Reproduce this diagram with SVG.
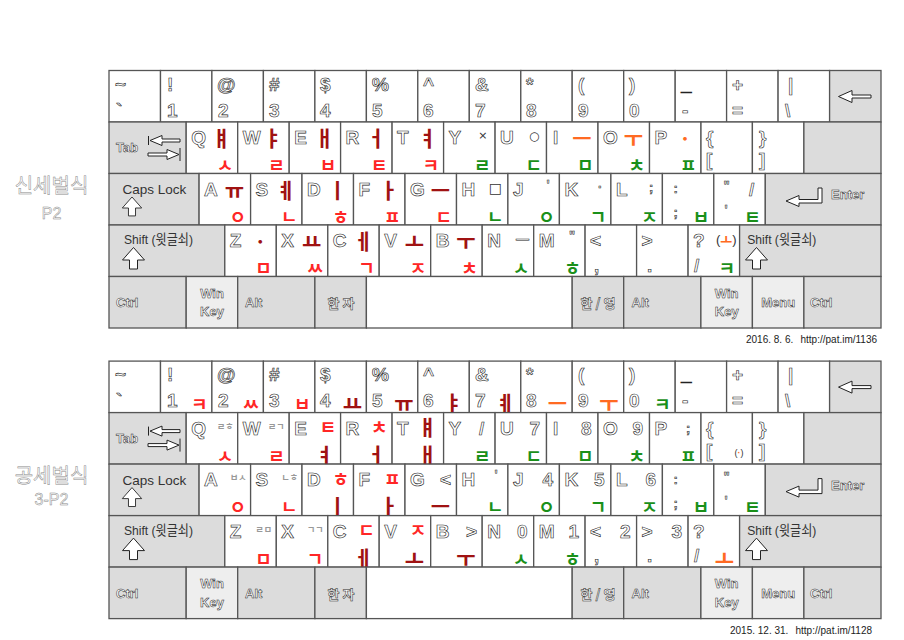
<svg xmlns="http://www.w3.org/2000/svg" xmlns:xlink="http://www.w3.org/1999/xlink" width="904" height="640" viewBox="0 0 904 640">
<style>
.k{stroke:#555;stroke-width:1.3}
.w{fill:#fff}.g{fill:#dcdcdc}.l{fill:#eeeeee}
.h{font-family:"Liberation Sans",Arial,sans-serif;font-size:19px;font-weight:bold;fill:#fff;stroke:#222;stroke-width:.6}
.hs{font-family:"Liberation Sans",Arial,sans-serif;font-size:13px;font-weight:bold;fill:#fff;stroke:#222;stroke-width:.55}
.hb{font-family:"Liberation Sans",Arial,sans-serif;font-size:13px;font-weight:bold;fill:#fff;stroke:#222;stroke-width:.5}
.hk{font-family:"Noto Sans CJK KR",sans-serif;font-size:13px;font-weight:bold;fill:#fff;stroke:#222;stroke-width:.5}
.t{font-family:"Liberation Sans","Noto Sans CJK KR",sans-serif;font-size:13.5px;fill:#333}
.v{font-family:"Noto Sans CJK KR",sans-serif;font-size:21px;font-weight:bold;text-anchor:end}
.c{font-family:"Noto Sans CJK KR",sans-serif;font-size:18px;font-weight:bold;text-anchor:end}
.sm{font-family:"Noto Sans CJK KR",sans-serif;font-size:9px;font-weight:bold;fill:#999;text-anchor:end}
.dr{fill:#a01212}.rd{fill:#ff2626}.gr{fill:#1a901a}.or{fill:#ff6a22}.bk{fill:#333}
.e{text-anchor:end}.m{text-anchor:middle}
.ic{fill:#fff;stroke:#222;stroke-width:1}
.f{font-family:"Liberation Sans",Arial,sans-serif;font-size:10px;fill:#222}
.lab{font-family:"Noto Sans CJK KR",sans-serif;font-size:20px;fill:#fff;stroke:#888;stroke-width:.5;text-anchor:middle}
.labl{font-family:"Liberation Sans",Arial,sans-serif;font-size:16px;fill:#fff;stroke:#888;stroke-width:.5;text-anchor:middle}
</style>
<defs>
<path id="ua" class="ic" d="M0,0 L11,12.5 L4,12.5 L4,21.5 L-4,21.5 L-4,12.5 L-11,12.5 Z"/>
<path id="bsa" class="ic" d="M0,0 L13.5,-6 L13.5,-1.5 L32.5,-1.5 L32.5,1.5 L13.5,1.5 L13.5,6 Z"/>
<path id="ena" class="ic" d="M0,0 L13,-5.5 L13,-1.5 L32,-1.5 L32,-13 L36,-13 L36,2 L13,2 L13,5.5 Z"/>
<g id="tba">
<path class="ic" d="M148.5,136 V145 M180,148 V161"/>
<path class="ic" d="M150,140.5 L162,135.5 L162,139 L180,139 L180,142 L162,142 L162,145.5 Z"/>
<path class="ic" d="M179,154.5 L167,149.5 L167,153 L148,153 L148,156 L167,156 L167,159.5 Z"/>
</g>
</defs>
<rect width="904" height="640" fill="#fff"/>

<g id="label1"><text class="lab" x="51.5" y="193">신세벌식</text><text class="labl" x="51.5" y="219">P2</text></g>
<g id="label2"><text class="lab" x="51.5" y="483">공세벌식</text><text class="labl" x="51.5" y="505">3-P2</text></g>
<g id="foot1"><text class="f" x="746" y="343">2016. 8. 6.</text><text class="f" x="800.5" y="343">http://pat.im/1136</text></g>
<g id="foot2"><text class="f" x="730" y="634">2015. 12. 31.</text><text class="f" x="795.5" y="634">http://pat.im/1128</text></g>

<!-- ===== Keyboard 1 : 신세벌식 P2 ===== -->
<g id="kb1">
<g id="a-grave"><rect class="k w" x="109" y="70.5" width="51.5" height="51.5"/><text class="h" x="115" y="90.5">~</text><text class="h" x="116" y="116.5">`</text></g>
<g id="a-1"><rect class="k w" x="160.5" y="70.5" width="51.4" height="51.5"/><text class="h" x="167" y="90.5">!</text><text class="h" x="167" y="116.5">1</text></g>
<g id="a-2"><rect class="k w" x="211.9" y="70.5" width="51.5" height="51.5"/><text class="h" x="217" y="90.5">@</text><text class="h" x="218" y="116.5">2</text></g>
<g id="a-3"><rect class="k w" x="263.4" y="70.5" width="51.5" height="51.5"/><text class="h" x="269" y="90.5">#</text><text class="h" x="269" y="116.5">3</text></g>
<g id="a-4"><rect class="k w" x="314.9" y="70.5" width="51.5" height="51.5"/><text class="h" x="320" y="90.5">$</text><text class="h" x="320" y="116.5">4</text></g>
<g id="a-5"><rect class="k w" x="366.4" y="70.5" width="51.4" height="51.5"/><text class="h" x="372" y="90.5">%</text><text class="h" x="372" y="116.5">5</text></g>
<g id="a-6"><rect class="k w" x="417.8" y="70.5" width="51.5" height="51.5"/><text class="h" x="423" y="90.5">^</text><text class="h" x="423" y="116.5">6</text></g>
<g id="a-7"><rect class="k w" x="469.3" y="70.5" width="51.5" height="51.5"/><text class="h" x="475" y="90.5">&amp;</text><text class="h" x="475" y="116.5">7</text></g>
<g id="a-8"><rect class="k w" x="520.8" y="70.5" width="51.4" height="51.5"/><text class="h" x="526" y="90.5">*</text><text class="h" x="526" y="116.5">8</text></g>
<g id="a-9"><rect class="k w" x="572.2" y="70.5" width="51.5" height="51.5"/><text class="h" x="578" y="90.5">(</text><text class="h" x="578" y="116.5">9</text></g>
<g id="a-0"><rect class="k w" x="623.7" y="70.5" width="51.5" height="51.5"/><text class="h" x="629" y="90.5">)</text><text class="h" x="629" y="116.5">0</text></g>
<g id="a-minus"><rect class="k w" x="675.2" y="70.5" width="51.4" height="51.5"/><text class="h" x="681" y="90.5">_</text><text class="h" x="682" y="116.5">-</text></g>
<g id="a-equal"><rect class="k w" x="726.6" y="70.5" width="51.5" height="51.5"/><text class="h" x="732" y="90.5">+</text><text class="h" x="732" y="116.5">=</text></g>
<g id="a-bslash"><rect class="k w" x="778.1" y="70.5" width="51.5" height="51.5"/><text class="h" x="788" y="90.5">|</text><text class="h" x="785" y="116.5">\</text></g>
<g id="a-back"><rect class="k g" x="829.6" y="70.5" width="51.4" height="51.5"/><use xlink:href="#bsa" x="838.5" y="96.5"/></g>

<g id="a-tab"><rect class="k g" x="109" y="122" width="77.2" height="51.5"/><text class="hb" x="116" y="152">Tab</text><use xlink:href="#tba"/></g>
<g id="a-q"><rect class="k w" x="186.2" y="122" width="51.5" height="51.5"/><text class="h" x="191.2" y="144">Q</text><text class="v dr" x="231.2" y="146">ㅒ</text><text class="c rd" x="233.2" y="172">ㅅ</text></g>
<g id="a-w"><rect class="k w" x="237.7" y="122" width="51.5" height="51.5"/><text class="h" x="242.7" y="144">W</text><text class="v dr" x="282.7" y="146">ㅑ</text><text class="c rd" x="284.7" y="172">ㄹ</text></g>
<g id="a-e"><rect class="k w" x="289.2" y="122" width="51.4" height="51.5"/><text class="h" x="294.2" y="144">E</text><text class="v dr" x="334.2" y="146">ㅐ</text><text class="c rd" x="336.2" y="172">ㅂ</text></g>
<g id="a-r"><rect class="k w" x="340.6" y="122" width="51.5" height="51.5"/><text class="h" x="345.6" y="144">R</text><text class="v dr" x="385.6" y="146">ㅓ</text><text class="c rd" x="387.6" y="172">ㅌ</text></g>
<g id="a-t"><rect class="k w" x="392.1" y="122" width="51.5" height="51.5"/><text class="h" x="397.1" y="144">T</text><text class="v dr" x="437.1" y="146">ㅕ</text><text class="c rd" x="439.1" y="172">ㅋ</text></g>
<g id="a-y"><rect class="k w" x="443.6" y="122" width="51.5" height="51.5"/><text class="h" x="448.6" y="144">Y</text><text class="bk e" x="487.5" y="139" font-family="DejaVu Sans" font-size="11">×</text><text class="c gr" x="490.6" y="172">ㄹ</text></g>
<g id="a-u"><rect class="k w" x="495.1" y="122" width="51.4" height="51.5"/><text class="h" x="500.1" y="144">U</text><text class="bk e" x="539.5" y="140" font-family="DejaVu Sans" font-size="12">○</text><text class="c gr" x="542.1" y="172">ㄷ</text></g>
<g id="a-i"><rect class="k w" x="546.5" y="122" width="51.5" height="51.5"/><text class="h" x="553" y="144">I</text><text class="v or" x="591.5" y="146">ㅡ</text><text class="c gr" x="593.5" y="172">ㅁ</text></g>
<g id="a-o"><rect class="k w" x="598" y="122" width="51.5" height="51.5"/><text class="h" x="603" y="144">O</text><text class="v or" x="643" y="146">ㅜ</text><text class="c gr" x="645" y="172">ㅊ</text></g>
<g id="a-p"><rect class="k w" x="649.5" y="122" width="51.5" height="51.5"/><text class="h" x="654.5" y="144">P</text><text class="v or" x="694.5" y="146">ㆍ</text><text class="c gr" x="696.5" y="172">ㅍ</text></g>
<g id="a-lbr"><rect class="k w" x="701" y="122" width="51.4" height="51.5"/><text class="h" x="706" y="144">{</text><text class="h" x="706" y="166">[</text></g>
<g id="a-rbr"><rect class="k w" x="752.4" y="122" width="51.5" height="51.5"/><text class="h" x="759" y="144">}</text><text class="h" x="759" y="166">]</text></g>
<g id="a-ret"><rect class="k g" x="803.9" y="122" width="77.1" height="51.5"/></g>

<g id="a-caps"><rect class="k g" x="109" y="173.5" width="90.1" height="51.5"/><text class="t" x="122.5" y="194">Caps Lock</text><use xlink:href="#ua" transform="translate(132,197) scale(.88)"/></g>
<g id="a-a"><rect class="k w" x="199.1" y="173.5" width="51.5" height="51.5"/><text class="h" x="204.1" y="195.5">A</text><text class="v dr" x="244.1" y="197.5">ㅠ</text><text class="c rd" x="246.1" y="223.5">ㅇ</text></g>
<g id="a-s"><rect class="k w" x="250.6" y="173.5" width="51.4" height="51.5"/><text class="h" x="255.6" y="195.5">S</text><text class="v dr" x="295.6" y="197.5">ㅖ</text><text class="c rd" x="297.6" y="223.5">ㄴ</text></g>
<g id="a-d"><rect class="k w" x="302" y="173.5" width="51.5" height="51.5"/><text class="h" x="307" y="195.5">D</text><text class="v dr" x="347" y="197.5">ㅣ</text><text class="c rd" x="349" y="223.5">ㅎ</text></g>
<g id="a-f"><rect class="k w" x="353.5" y="173.5" width="51.5" height="51.5"/><text class="h" x="358.5" y="195.5">F</text><text class="v dr" x="398.5" y="197.5">ㅏ</text><text class="c rd" x="400.5" y="223.5">ㅍ</text></g>
<g id="a-g"><rect class="k w" x="405" y="173.5" width="51.5" height="51.5"/><text class="h" x="410" y="195.5">G</text><text class="v dr" x="450" y="197.5">ㅡ</text><text class="c rd" x="452" y="223.5">ㄷ</text></g>
<g id="a-h"><rect class="k w" x="456.5" y="173.5" width="51.4" height="51.5"/><text class="h" x="461.5" y="195.5">H</text><text class="bk e" x="502" y="193" font-family="DejaVu Sans" font-size="14">□</text><text class="c gr" x="503.5" y="223.5">ㄴ</text></g>
<g id="a-j"><rect class="k w" x="507.9" y="173.5" width="51.5" height="51.5"/><text class="h" x="512.9" y="195.5">J</text><text class="hs" x="546.5" y="189">'</text><text class="c gr" x="554.9" y="223.5">ㅇ</text></g>
<g id="a-k"><rect class="k w" x="559.4" y="173.5" width="51.5" height="51.5"/><text class="h" x="564.4" y="195.5">K</text><text class="hs" x="598" y="191">·</text><text class="c gr" x="606.4" y="223.5">ㄱ</text></g>
<g id="a-l"><rect class="k w" x="610.9" y="173.5" width="51.5" height="51.5"/><text class="h" x="615.9" y="195.5">L</text><text class="hs" x="649" y="192">;</text><text class="c gr" x="657.9" y="223.5">ㅈ</text></g>
<g id="a-semi"><rect class="k w" x="662.4" y="173.5" width="51.4" height="51.5"/><text class="hs" x="673.5" y="193">:</text><text class="hs" x="673.5" y="217">;</text><text class="c gr" x="709.4" y="223.5">ㅂ</text></g>
<g id="a-quote"><rect class="k w" x="713.8" y="173.5" width="51.5" height="51.5"/><text class="hs" x="723.5" y="190">"</text><text class="hs" x="724.5" y="214">'</text><text class="h" x="749" y="196">/</text><text class="c gr" x="760.8" y="223.5">ㅌ</text></g>
<g id="a-enter"><rect class="k g" x="765.3" y="173.5" width="115.7" height="51.5"/><use xlink:href="#ena" x="786" y="201"/><text class="hb" x="831" y="199">Enter</text></g>

<g id="a-lshift"><rect class="k g" x="109" y="225" width="115.8" height="51.5"/><text class="t" x="124" y="244" textLength="69" lengthAdjust="spacingAndGlyphs">Shift (윗글쇠)</text><use xlink:href="#ua" x="133.5" y="247.5"/></g>
<g id="a-z"><rect class="k w" x="224.8" y="225" width="51.5" height="51.5"/><text class="h" x="229.8" y="247">Z</text><text class="v dr" x="269.8" y="249">ㆍ</text><text class="c rd" x="271.8" y="275">ㅁ</text></g>
<g id="a-x"><rect class="k w" x="276.3" y="225" width="51.5" height="51.5"/><text class="h" x="281.3" y="247">X</text><text class="v dr" x="321.3" y="249">ㅛ</text><text class="c rd" x="323.3" y="275">ㅆ</text></g>
<g id="a-c"><rect class="k w" x="327.8" y="225" width="51.4" height="51.5"/><text class="h" x="332.8" y="247">C</text><text class="v dr" x="372.8" y="249">ㅔ</text><text class="c rd" x="374.8" y="275">ㄱ</text></g>
<g id="a-v"><rect class="k w" x="379.2" y="225" width="51.5" height="51.5"/><text class="h" x="384.2" y="247">V</text><text class="v dr" x="424.2" y="249">ㅗ</text><text class="c rd" x="426.2" y="275">ㅈ</text></g>
<g id="a-b"><rect class="k w" x="430.7" y="225" width="51.5" height="51.5"/><text class="h" x="435.7" y="247">B</text><text class="v dr" x="475.7" y="249">ㅜ</text><text class="c rd" x="477.7" y="275">ㅊ</text></g>
<g id="a-n"><rect class="k w" x="482.2" y="225" width="51.5" height="51.5"/><text class="h" x="487.2" y="247">N</text><text class="hs e" x="529" y="243">—</text><text class="c gr" x="529.2" y="275">ㅅ</text></g>
<g id="a-m"><rect class="k w" x="533.7" y="225" width="51.4" height="51.5"/><text class="h" x="538.7" y="247">M</text><text class="hs" x="569" y="240">"</text><text class="c gr" x="580.7" y="275">ㅎ</text></g>
<g id="a-comma"><rect class="k w" x="585.1" y="225" width="51.5" height="51.5"/><text class="h" x="590.1" y="247">&lt;</text><text class="h" x="594" y="271.5">,</text></g>
<g id="a-period"><rect class="k w" x="636.6" y="225" width="51.5" height="51.5"/><text class="h" x="641.6" y="247">&gt;</text><text class="h" x="647" y="271.5">.</text></g>
<g id="a-slash"><rect class="k w" x="688.1" y="225" width="51.5" height="51.5"/><text class="h" x="693.1" y="247">?</text><text class="h" x="694" y="271.5">/</text><text class="bk" x="716" y="244" font-family="Liberation Sans" font-size="13">(<tspan class="or" font-family="Noto Sans CJK KR" font-weight="bold">ㅗ</tspan>)</text><text class="c gr" x="735.1" y="275">ㅋ</text></g>
<g id="a-rshift"><rect class="k g" x="739.6" y="225" width="141.4" height="51.5"/><text class="t" x="747.3" y="244" textLength="69" lengthAdjust="spacingAndGlyphs">Shift (윗글쇠)</text><use xlink:href="#ua" x="756.5" y="247.5"/></g>

<g id="a-lctrl"><rect class="k g" x="109" y="276.5" width="77.2" height="51.5"/><text class="hb" x="116" y="307">Ctrl</text></g>
<g id="a-lwin"><rect class="k l" x="186.2" y="276.5" width="51.5" height="51.5"/><text class="hb m" x="212" y="297.5">Win</text><text class="hb m" x="212" y="316">Key</text></g>
<g id="a-lalt"><rect class="k g" x="237.7" y="276.5" width="77.2" height="51.5"/><text class="hb" x="245" y="307">Alt</text></g>
<g id="a-hanja"><rect class="k g" x="314.9" y="276.5" width="51.5" height="51.5"/><text class="hk m" x="341" y="308">한 자</text></g>
<g id="a-space"><rect class="k w" x="366.4" y="276.5" width="205.8" height="51.5"/></g>
<g id="a-hanyeong"><rect class="k g" x="572.2" y="276.5" width="51.5" height="51.5"/><text class="hk m" x="598" y="308">한 / 영</text></g>
<g id="a-ralt"><rect class="k g" x="623.7" y="276.5" width="77.2" height="51.5"/><text class="hb" x="631.5" y="307">Alt</text></g>
<g id="a-rwin"><rect class="k l" x="700.9" y="276.5" width="51.5" height="51.5"/><text class="hb m" x="726.7" y="297.5">Win</text><text class="hb m" x="726.7" y="316">Key</text></g>
<g id="a-menu"><rect class="k l" x="752.4" y="276.5" width="51.5" height="51.5"/><text class="hb m" x="778.2" y="307">Menu</text></g>
<g id="a-rctrl"><rect class="k g" x="803.9" y="276.5" width="77.1" height="51.5"/><text class="hb" x="810" y="307">Ctrl</text></g>
</g>

<!-- ===== Keyboard 2 : 공세벌식 3-P2 ===== -->
<g id="kb2" transform="translate(0,290.6)">
<g id="b-grave"><rect class="k w" x="109" y="70.5" width="51.5" height="51.5"/><text class="h" x="115" y="90.5">~</text><text class="h" x="116" y="116.5">`</text></g>
<g id="b-1"><rect class="k w" x="160.5" y="70.5" width="51.4" height="51.5"/><text class="h" x="167" y="90.5">!</text><text class="h" x="167" y="116.5">1</text><text class="c rd" x="207.5" y="120.5">ㅋ</text></g>
<g id="b-2"><rect class="k w" x="211.9" y="70.5" width="51.5" height="51.5"/><text class="h" x="217" y="90.5">@</text><text class="h" x="218" y="116.5">2</text><text class="c rd" x="259" y="120.5">ㅆ</text></g>
<g id="b-3"><rect class="k w" x="263.4" y="70.5" width="51.5" height="51.5"/><text class="h" x="269" y="90.5">#</text><text class="h" x="269" y="116.5">3</text><text class="c rd" x="310.5" y="120.5">ㅂ</text></g>
<g id="b-4"><rect class="k w" x="314.9" y="70.5" width="51.5" height="51.5"/><text class="h" x="320" y="90.5">$</text><text class="h" x="320" y="116.5">4</text><text class="v dr" x="362" y="120.5">ㅛ</text></g>
<g id="b-5"><rect class="k w" x="366.4" y="70.5" width="51.4" height="51.5"/><text class="h" x="372" y="90.5">%</text><text class="h" x="372" y="116.5">5</text><text class="v dr" x="413.5" y="120.5">ㅠ</text></g>
<g id="b-6"><rect class="k w" x="417.8" y="70.5" width="51.5" height="51.5"/><text class="h" x="423" y="90.5">^</text><text class="h" x="423" y="116.5">6</text><text class="v dr" x="463" y="120.5">ㅑ</text></g>
<g id="b-7"><rect class="k w" x="469.3" y="70.5" width="51.5" height="51.5"/><text class="h" x="475" y="90.5">&amp;</text><text class="h" x="475" y="116.5">7</text><text class="v dr" x="515" y="120.5">ㅖ</text></g>
<g id="b-8"><rect class="k w" x="520.8" y="70.5" width="51.4" height="51.5"/><text class="h" x="526" y="90.5">*</text><text class="h" x="526" y="116.5">8</text><text class="v or" x="567" y="120.5">ㅡ</text></g>
<g id="b-9"><rect class="k w" x="572.2" y="70.5" width="51.5" height="51.5"/><text class="h" x="578" y="90.5">(</text><text class="h" x="578" y="116.5">9</text><text class="v or" x="618.5" y="120.5">ㅜ</text></g>
<g id="b-0"><rect class="k w" x="623.7" y="70.5" width="51.5" height="51.5"/><text class="h" x="629" y="90.5">)</text><text class="h" x="629" y="116.5">0</text><text class="c gr" x="670.5" y="120.5">ㅋ</text></g>
<g id="b-minus"><rect class="k w" x="675.2" y="70.5" width="51.4" height="51.5"/><text class="h" x="681" y="90.5">_</text><text class="h" x="682" y="116.5">-</text></g>
<g id="b-equal"><rect class="k w" x="726.6" y="70.5" width="51.5" height="51.5"/><text class="h" x="732" y="90.5">+</text><text class="h" x="732" y="116.5">=</text></g>
<g id="b-bslash"><rect class="k w" x="778.1" y="70.5" width="51.5" height="51.5"/><text class="h" x="788" y="90.5">|</text><text class="h" x="785" y="116.5">\</text></g>
<g id="b-back"><rect class="k g" x="829.6" y="70.5" width="51.4" height="51.5"/><use xlink:href="#bsa" x="838.5" y="96.5"/></g>

<g id="b-tab"><rect class="k g" x="109" y="122" width="77.2" height="51.5"/><text class="hb" x="116" y="152">Tab</text><use xlink:href="#tba"/></g>
<g id="b-q"><rect class="k w" x="186.2" y="122" width="51.5" height="51.5"/><text class="h" x="191.2" y="144">Q</text><text class="sm" x="233.5" y="139">ㄹㅎ</text><text class="c rd" x="233.2" y="172">ㅅ</text></g>
<g id="b-w"><rect class="k w" x="237.7" y="122" width="51.5" height="51.5"/><text class="h" x="242.7" y="144">W</text><text class="sm" x="284.5" y="139">ㄹㄱ</text><text class="c rd" x="284.7" y="172">ㄹ</text></g>
<g id="b-e"><rect class="k w" x="289.2" y="122" width="51.4" height="51.5"/><text class="h" x="294.2" y="144">E</text><text class="c rd" x="336.2" y="143.5">ㅌ</text><text class="v dr" x="334.2" y="172">ㅕ</text></g>
<g id="b-r"><rect class="k w" x="340.6" y="122" width="51.5" height="51.5"/><text class="h" x="345.6" y="144">R</text><text class="c rd" x="387.6" y="143.5">ㅊ</text><text class="v dr" x="385.6" y="172">ㅓ</text></g>
<g id="b-t"><rect class="k w" x="392.1" y="122" width="51.5" height="51.5"/><text class="h" x="397.1" y="144">T</text><text class="v dr" x="437.1" y="144.5" font-size="19">ㅒ</text><text class="v dr" x="437.1" y="172.5" font-size="19">ㅐ</text></g>
<g id="b-y"><rect class="k w" x="443.6" y="122" width="51.5" height="51.5"/><text class="h" x="448.6" y="144">Y</text><text class="h" x="479" y="144">/</text><text class="c gr" x="490.6" y="172">ㄹ</text></g>
<g id="b-u"><rect class="k w" x="495.1" y="122" width="51.4" height="51.5"/><text class="h" x="500.1" y="144">U</text><text class="h e" x="540" y="144">7</text><text class="c gr" x="542.1" y="172">ㄷ</text></g>
<g id="b-i"><rect class="k w" x="546.5" y="122" width="51.5" height="51.5"/><text class="h" x="553" y="144">I</text><text class="h e" x="591.5" y="144">8</text><text class="c gr" x="593.5" y="172">ㅁ</text></g>
<g id="b-o"><rect class="k w" x="598" y="122" width="51.5" height="51.5"/><text class="h" x="603" y="144">O</text><text class="h e" x="643" y="144">9</text><text class="c gr" x="645" y="172">ㅊ</text></g>
<g id="b-p"><rect class="k w" x="649.5" y="122" width="51.5" height="51.5"/><text class="h" x="654.5" y="144">P</text><text class="hs" x="686" y="142">;</text><text class="c gr" x="696.5" y="172">ㅍ</text></g>
<g id="b-lbr"><rect class="k w" x="701" y="122" width="51.4" height="51.5"/><text class="h" x="706" y="144">{</text><text class="h" x="706" y="166">[</text><text class="bk" x="734.5" y="165" font-family="Liberation Sans" font-size="9">(<tspan class="or" font-weight="bold">·</tspan>)</text></g>
<g id="b-rbr"><rect class="k w" x="752.4" y="122" width="51.5" height="51.5"/><text class="h" x="759" y="144">}</text><text class="h" x="759" y="166">]</text></g>
<g id="b-ret"><rect class="k g" x="803.9" y="122" width="77.1" height="51.5"/></g>

<g id="b-caps"><rect class="k g" x="109" y="173.5" width="90.1" height="51.5"/><text class="t" x="122.5" y="194">Caps Lock</text><use xlink:href="#ua" transform="translate(132,197) scale(.88)"/></g>
<g id="b-a"><rect class="k w" x="199.1" y="173.5" width="51.5" height="51.5"/><text class="h" x="204.1" y="195.5">A</text><text class="sm" x="246.5" y="190.5">ㅂㅅ</text><text class="c rd" x="246.1" y="223.5">ㅇ</text></g>
<g id="b-s"><rect class="k w" x="250.6" y="173.5" width="51.4" height="51.5"/><text class="h" x="255.6" y="195.5">S</text><text class="sm" x="298" y="190.5">ㄴㅎ</text><text class="c rd" x="297.6" y="223.5">ㄴ</text></g>
<g id="b-d"><rect class="k w" x="302" y="173.5" width="51.5" height="51.5"/><text class="h" x="307" y="195.5">D</text><text class="c rd" x="349" y="195">ㅎ</text><text class="v dr" x="347" y="223.5">ㅣ</text></g>
<g id="b-f"><rect class="k w" x="353.5" y="173.5" width="51.5" height="51.5"/><text class="h" x="358.5" y="195.5">F</text><text class="c rd" x="400.5" y="195">ㅍ</text><text class="v dr" x="398.5" y="223.5">ㅏ</text></g>
<g id="b-g"><rect class="k w" x="405" y="173.5" width="51.5" height="51.5"/><text class="h" x="410" y="195.5">G</text><text class="h e" x="451" y="195.5">&lt;</text><text class="v dr" x="450" y="223.5">ㅡ</text></g>
<g id="b-h"><rect class="k w" x="456.5" y="173.5" width="51.4" height="51.5"/><text class="h" x="461.5" y="195.5">H</text><text class="hs" x="494.5" y="188.5">'</text><text class="c gr" x="503.5" y="223.5">ㄴ</text></g>
<g id="b-j"><rect class="k w" x="507.9" y="173.5" width="51.5" height="51.5"/><text class="h" x="512.9" y="195.5">J</text><text class="h e" x="553" y="195.5">4</text><text class="c gr" x="554.9" y="223.5">ㅇ</text></g>
<g id="b-k"><rect class="k w" x="559.4" y="173.5" width="51.5" height="51.5"/><text class="h" x="564.4" y="195.5">K</text><text class="h e" x="604.5" y="195.5">5</text><text class="c gr" x="606.4" y="223.5">ㄱ</text></g>
<g id="b-l"><rect class="k w" x="610.9" y="173.5" width="51.5" height="51.5"/><text class="h" x="615.9" y="195.5">L</text><text class="h e" x="656" y="195.5">6</text><text class="c gr" x="657.9" y="223.5">ㅈ</text></g>
<g id="b-semi"><rect class="k w" x="662.4" y="173.5" width="51.4" height="51.5"/><text class="hs" x="673.5" y="193">:</text><text class="hs" x="673.5" y="217">;</text><text class="c gr" x="709.4" y="223.5">ㅂ</text></g>
<g id="b-quote"><rect class="k w" x="713.8" y="173.5" width="51.5" height="51.5"/><text class="hs" x="723.5" y="190">"</text><text class="hs" x="724.5" y="214">'</text><text class="c gr" x="760.8" y="223.5">ㅌ</text></g>
<g id="b-enter"><rect class="k g" x="765.3" y="173.5" width="115.7" height="51.5"/><use xlink:href="#ena" x="786" y="201"/><text class="hb" x="831" y="199">Enter</text></g>

<g id="b-lshift"><rect class="k g" x="109" y="225" width="115.8" height="51.5"/><text class="t" x="124" y="244" textLength="69" lengthAdjust="spacingAndGlyphs">Shift (윗글쇠)</text><use xlink:href="#ua" x="133.5" y="247.5"/></g>
<g id="b-z"><rect class="k w" x="224.8" y="225" width="51.5" height="51.5"/><text class="h" x="229.8" y="247">Z</text><text class="sm" x="272" y="242">ㄹㅁ</text><text class="c rd" x="271.8" y="275">ㅁ</text></g>
<g id="b-x"><rect class="k w" x="276.3" y="225" width="51.5" height="51.5"/><text class="h" x="281.3" y="247">X</text><text class="sm" x="323.5" y="242">ㄱㄱ</text><text class="c rd" x="323.3" y="275">ㄱ</text></g>
<g id="b-c"><rect class="k w" x="327.8" y="225" width="51.4" height="51.5"/><text class="h" x="332.8" y="247">C</text><text class="c rd" x="374.8" y="246.5">ㄷ</text><text class="v dr" x="372.8" y="275">ㅔ</text></g>
<g id="b-v"><rect class="k w" x="379.2" y="225" width="51.5" height="51.5"/><text class="h" x="384.2" y="247">V</text><text class="c rd" x="426.2" y="246.5">ㅈ</text><text class="v dr" x="424.2" y="275">ㅗ</text></g>
<g id="b-b"><rect class="k w" x="430.7" y="225" width="51.5" height="51.5"/><text class="h" x="435.7" y="247">B</text><text class="h e" x="477" y="247">&gt;</text><text class="v dr" x="475.7" y="275">ㅜ</text></g>
<g id="b-n"><rect class="k w" x="482.2" y="225" width="51.5" height="51.5"/><text class="h" x="487.2" y="247">N</text><text class="h e" x="527.5" y="247">0</text><text class="c gr" x="529.2" y="275">ㅅ</text></g>
<g id="b-m"><rect class="k w" x="533.7" y="225" width="51.4" height="51.5"/><text class="h" x="538.7" y="247">M</text><text class="h e" x="579" y="247">1</text><text class="c gr" x="580.7" y="275">ㅎ</text></g>
<g id="b-comma"><rect class="k w" x="585.1" y="225" width="51.5" height="51.5"/><text class="h" x="590.1" y="247">&lt;</text><text class="h" x="594" y="271.5">,</text><text class="h e" x="630.5" y="247">2</text></g>
<g id="b-period"><rect class="k w" x="636.6" y="225" width="51.5" height="51.5"/><text class="h" x="641.6" y="247">&gt;</text><text class="h" x="647" y="271.5">.</text><text class="h e" x="682" y="247">3</text></g>
<g id="b-slash"><rect class="k w" x="688.1" y="225" width="51.5" height="51.5"/><text class="h" x="693.1" y="247">?</text><text class="h" x="694" y="271.5">/</text><text class="v or" x="734" y="275">ㅗ</text></g>
<g id="b-rshift"><rect class="k g" x="739.6" y="225" width="141.4" height="51.5"/><text class="t" x="747.3" y="244" textLength="69" lengthAdjust="spacingAndGlyphs">Shift (윗글쇠)</text><use xlink:href="#ua" x="756.5" y="247.5"/></g>

<g id="b-lctrl"><rect class="k g" x="109" y="276.5" width="77.2" height="51.5"/><text class="hb" x="116" y="307">Ctrl</text></g>
<g id="b-lwin"><rect class="k l" x="186.2" y="276.5" width="51.5" height="51.5"/><text class="hb m" x="212" y="297.5">Win</text><text class="hb m" x="212" y="316">Key</text></g>
<g id="b-lalt"><rect class="k g" x="237.7" y="276.5" width="77.2" height="51.5"/><text class="hb" x="245" y="307">Alt</text></g>
<g id="b-hanja"><rect class="k g" x="314.9" y="276.5" width="51.5" height="51.5"/><text class="hk m" x="341" y="308">한 자</text></g>
<g id="b-space"><rect class="k w" x="366.4" y="276.5" width="205.8" height="51.5"/></g>
<g id="b-hanyeong"><rect class="k g" x="572.2" y="276.5" width="51.5" height="51.5"/><text class="hk m" x="598" y="308">한 / 영</text></g>
<g id="b-ralt"><rect class="k g" x="623.7" y="276.5" width="77.2" height="51.5"/><text class="hb" x="631.5" y="307">Alt</text></g>
<g id="b-rwin"><rect class="k l" x="700.9" y="276.5" width="51.5" height="51.5"/><text class="hb m" x="726.7" y="297.5">Win</text><text class="hb m" x="726.7" y="316">Key</text></g>
<g id="b-menu"><rect class="k l" x="752.4" y="276.5" width="51.5" height="51.5"/><text class="hb m" x="778.2" y="307">Menu</text></g>
<g id="b-rctrl"><rect class="k g" x="803.9" y="276.5" width="77.1" height="51.5"/><text class="hb" x="810" y="307">Ctrl</text></g>
</g>
<g id="connectors"/>
</svg>
